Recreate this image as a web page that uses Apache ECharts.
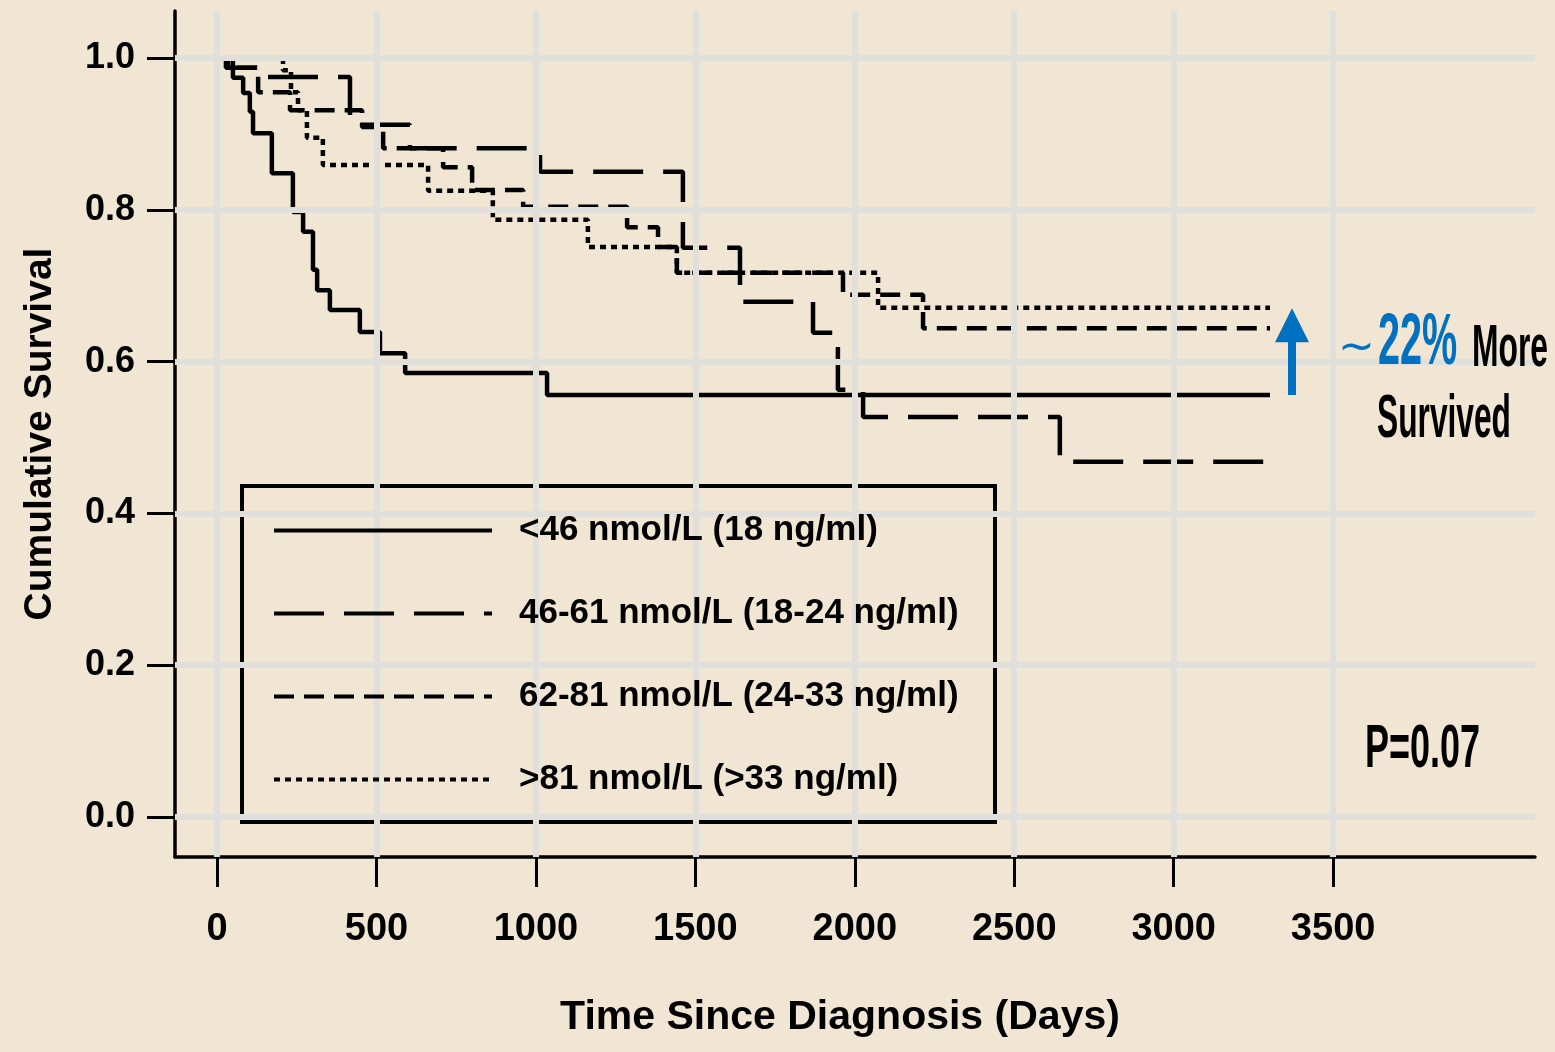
<!DOCTYPE html>
<html>
<head>
<meta charset="utf-8">
<script src="https://cdn.jsdelivr.net/npm/echarts@6/dist/echarts.min.js"></script>
<style>
html,body{margin:0;padding:0;background:#f1e6d4;}
#chart{width:1555px;height:1052px;}
</style>
</head>
<body>
<div id="chart"></div>
<script>
// ---------- data ----------
const categories = [
  '<46 nmol/L (18 ng/ml)',
  '46-61 nmol/L (18-24 ng/ml)',
  '62-81 nmol/L (24-33 ng/ml)',
  '>81 nmol/L (>33 ng/ml)'
];
const xTickValues = [0, 500, 1000, 1500, 2000, 2500, 3000, 3500];
const yTickValues = [0, 0.2, 0.4, 0.6, 0.8, 1.0];

const daysLt46 = [0, 50, 82, 103, 113, 172, 238, 270, 301, 314, 354, 448, 511, 590, 1035, 3302];
const survLt46 = [1.0, 0.974, 0.954, 0.929, 0.901, 0.848, 0.797, 0.771, 0.721, 0.694, 0.668, 0.639, 0.611, 0.585, 0.556, 0.556];

const days46to61 = [0, 28, 129, 417, 605, 1013, 1461, 1640, 1869, 1947, 2026, 2643, 3302];
const surv46to61 = [1.0, 0.987, 0.975, 0.912, 0.881, 0.85, 0.75, 0.679, 0.638, 0.563, 0.527, 0.468, 0.468];

const days62to81 = [0, 35, 129, 229, 455, 521, 709, 800, 960, 1286, 1383, 1442, 1963, 2214, 3302];
const surv62to81 = [1.0, 0.987, 0.955, 0.931, 0.909, 0.881, 0.856, 0.826, 0.804, 0.777, 0.751, 0.717, 0.688, 0.644, 0.644];

const daysGt81 = [0, 207, 232, 254, 282, 332, 662, 865, 1163, 1442, 2073, 3302];
const survGt81 = [1.0, 0.984, 0.955, 0.931, 0.895, 0.859, 0.825, 0.787, 0.751, 0.717, 0.671, 0.671];

const arrowDay = 3371;
const arrowFrom = 0.556;
const arrowTo = 0.648;
const pValueText = 'P=0.07';

// ---------- helpers ----------
const BG = '#f1e6d4';
const BLUE = '#0070c0';
const ARIAL = "'Liberation Sans',Arial,sans-serif";
const pairs = (d, s) => d.map((v, i) => [v, s[i]]);

const curveDefs = [
  { name: categories[0], days: daysLt46, surv: survLt46, dash: 'solid' },
  { name: categories[1], days: days46to61, surv: surv46to61, dash: [50, 20] },
  { name: categories[2], days: days62to81, surv: surv62to81, dash: [20, 10] },
  { name: categories[3], days: daysGt81, surv: survGt81, dash: [6, 5] }
];

const chart = echarts.init(document.getElementById('chart'));

const option = {
  backgroundColor: BG,
  animation: false,
  grid: { left: 175, right: 20, top: 11, bottom: 195, containLabel: false },
  xAxis: {
    type: 'value',
    min: -131.7,
    max: 4133,
    splitLine: { show: false },
    axisLine: { show: true, onZero: false, lineStyle: { color: '#000', width: 3.5 } },
    axisTick: { show: true, customValues: xTickValues, length: 30, lineStyle: { color: '#000', width: 3 } },
    axisLabel: {
      customValues: xTickValues,
      margin: 54,
      color: '#000',
      fontFamily: ARIAL,
      fontWeight: 'bold',
      fontSize: 38,
      formatter: v => String(v)
    },
    name: 'Time Since Diagnosis (Days)',
    nameLocation: 'middle',
    nameGap: 140,
    nameTextStyle: { color: '#000', fontFamily: ARIAL, fontWeight: 'bold', fontSize: 41, padding: [0, 30, 0, 0] }
  },
  yAxis: {
    type: 'value',
    min: -0.0527,
    max: 1.0619,
    splitLine: { show: false },
    axisLine: { show: true, onZero: false, lineStyle: { color: '#000', width: 3.5 } },
    axisTick: { show: true, customValues: yTickValues, length: 28, lineStyle: { color: '#000', width: 3 } },
    axisLabel: {
      customValues: yTickValues,
      margin: 40,
      color: '#000',
      fontFamily: ARIAL,
      fontWeight: 'bold',
      fontSize: 36,
      formatter: v => v.toFixed(1)
    },
    name: 'Cumulative Survival',
    nameLocation: 'middle',
    nameGap: 115,
    nameTextStyle: { color: '#000', fontFamily: ARIAL, fontWeight: 'bold', fontSize: 39 }
  },
  legend: {
    data: categories,
    orient: 'vertical',
    left: 242,
    top: 488,
    z: 10,
    padding: [25, 30, 20, 30],
    itemWidth: 218,
    itemHeight: 2,
    itemGap: 48,
    selectedMode: false,
    itemStyle: { opacity: 0 },
    lineStyle: { width: 4 },
    textStyle: { color: '#000', fontFamily: ARIAL, fontWeight: 'bold', fontSize: 35, padding: [0, 0, 0, 22] }
  },
  graphic: [
    {
      type: 'rect', z: 5,
      shape: { x: 242, y: 486, width: 753, height: 336 },
      style: { fill: BG, stroke: '#000', lineWidth: 4 }
    },
    {
      type: 'text', z: 6, x: 1338, y: 350,
      style: { text: '~', fill: BLUE, fontFamily: "'DejaVu Sans',sans-serif", fontSize: 44, align: 'left', verticalAlign: 'middle' }
    },
    {
      type: 'text', z: 6, x: 1378, y: 344, scaleX: 0.55,
      style: { text: '22%', fill: BLUE, fontFamily: ARIAL, fontWeight: 'bold', fontSize: 72, align: 'left', verticalAlign: 'middle' }
    },
    {
      type: 'text', z: 6, x: 1472, y: 349, scaleX: 0.53,
      style: { text: 'More', fill: '#000', fontFamily: ARIAL, fontWeight: 'bold', fontSize: 60, align: 'left', verticalAlign: 'middle' }
    },
    {
      type: 'text', z: 6, x: 1377, y: 420, scaleX: 0.52,
      style: { text: 'Survived', fill: '#000', fontFamily: ARIAL, fontWeight: 'bold', fontSize: 61, align: 'left', verticalAlign: 'middle' }
    },
    {
      type: 'text', z: 6, x: 1365, y: 750, scaleX: 0.59,
      style: { text: pValueText, fill: '#000', fontFamily: ARIAL, fontWeight: 'bold', fontSize: 61, align: 'left', verticalAlign: 'middle' }
    }
  ],
  series: [
    {
      name: 'gridlines',
      type: 'line',
      data: [],
      silent: true,
      z: 1,
      markLine: {
        silent: true,
        symbol: ['none', 'none'],
        label: { show: false },
        lineStyle: { color: '#e1dfdc', width: 6, type: 'solid' },
        data: [
          ...xTickValues.map(v => ({ xAxis: v })),
          ...yTickValues.map(v => ({ yAxis: v }))
        ]
      }
    },
    ...curveDefs.map(c => ({
      name: c.name,
      type: 'line',
      step: 'end',
      symbol: 'none',
      showSymbol: false,
      z: 3,
      lineStyle: { color: '#000', width: 4.5, type: c.dash },
      itemStyle: { color: '#000' },
      data: pairs(c.days, c.surv)
    })),
    {
      name: 'arrow',
      type: 'line',
      data: [],
      silent: true,
      z: 4,
      markLine: {
        silent: true,
        symbol: ['none', 'triangle'],
        symbolSize: 34,
        label: { show: false },
        lineStyle: { color: BLUE, width: 8, type: 'solid' },
        itemStyle: { color: BLUE },
        data: [[{ coord: [arrowDay, arrowFrom] }, { coord: [arrowDay, arrowTo] }]]
      }
    }
  ]
};
chart.setOption(option);
</script>
</body>
</html>
